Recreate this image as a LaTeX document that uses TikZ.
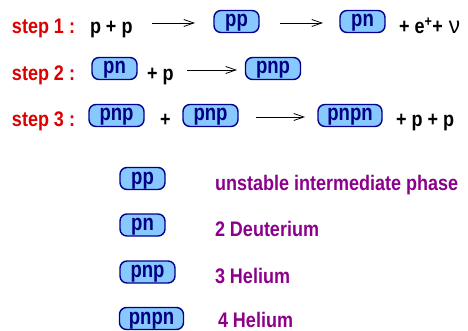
\documentclass[tikz,border=0pt]{standalone}
\usepackage{fontspec}
\setmainfont{Liberation Sans}
\usepackage{graphicx}
\usetikzlibrary{arrows.meta}
\definecolor{stepred}{RGB}{220,0,0}
\definecolor{legpurple}{RGB}{140,0,140}
\definecolor{boxfill}{RGB}{135,200,255}
\definecolor{boxdraw}{RGB}{0,0,140}
\definecolor{boxtext}{RGB}{0,0,130}
\newcommand{\T}[1]{\scalebox{1}[1.17]{#1}}
\newcommand{\B}[1]{\scalebox{1.03}[1.27]{#1}}
\begin{document}
\begin{tikzpicture}[x=1pt,y=-1pt,
  every node/.style={inner sep=0pt, outer sep=0pt, font=\fontsize{18}{21}\selectfont\bfseries},
  steplbl/.style={anchor=base west, text=stepred},
  eqtext/.style={anchor=base west, text=black},
  legtext/.style={anchor=base west, text=legpurple},
  nuc/.style={draw=boxdraw, fill=boxfill, text=boxtext, line width=1.4pt,
    rounded corners=7pt, minimum height=22pt, text height=16.5pt, text depth=5.5pt,
    minimum width=#1},
  nuc/.default=45pt,
  reac/.style={-{Straight Barb[length=10pt,width=7pt]}, line width=0.8pt}
]
\useasboundingbox (0,0) rectangle (468,331);
% row 1
\node[steplbl] (s1) at (12,34) {\T{step 1 :}};
\node[eqtext] (r1a) at (90,34) {\T{p + p}};
\node[nuc] (b11) at (236.5,21.5) {\B{pp}};
\node[nuc] (b12) at (362.5,21.5) {\B{pn}};
\node[eqtext] (r1b) at (399,34) {\T{+ e\textsuperscript{+}+}\hspace{6pt}\scalebox{1.25}[1.3]{\textmd{ν}}};
\coordinate (a1s) at (152,23); \coordinate (a1e) at (195,23);
\coordinate (a2s) at (280,23); \coordinate (a2e) at (323,23);
\draw[reac] (a1s) -- (a1e);
\draw[reac] (a2s) -- (a2e);
% row 2
\node[steplbl] (s2) at (12,80.5) {\T{step 2 :}};
\node[nuc] (b21) at (114.5,68.5) {\B{pn}};
\node[eqtext] (r2a) at (147,80.5) {\T{+ p}};
\node[nuc=55pt] (b22) at (273,68.5) {\B{pnp}};
\coordinate (a3s) at (187,70); \coordinate (a3e) at (237,70);
\draw[reac] (a3s) -- (a3e);
% row 3
\node[steplbl] (s3) at (12,127) {\T{step 3 :}};
\node[nuc=55pt] (b31) at (116.5,115.5) {\B{pnp}};
\node[eqtext] (r3a) at (160,127) {\T{+}};
\node[nuc=55pt] (b32) at (210.5,115.5) {\B{pnp}};
\node[nuc=64pt] (b33) at (350,115.5) {\B{pnpn}};
\node[eqtext] (r3b) at (396,127) {\T{+ p + p}};
\coordinate (a4s) at (256,117); \coordinate (a4e) at (305,117);
\draw[reac] (a4s) -- (a4e);
% legend
\node[nuc] (l1) at (142.5,178.5) {\B{pp}};
\node[nuc] (l2) at (142.5,225) {\B{pn}};
\node[nuc=55pt] (l3) at (147.5,272) {\B{pnp}};
\node[nuc=64pt] (l4) at (151.5,318.5) {\B{pnpn}};
\node[legtext] (t1) at (215,190) {\T{unstable intermediate phase}};
\node[legtext] (t2) at (215,236.5) {\T{2 Deuterium}};
\node[legtext] (t3) at (215,283) {\T{3 Helium}};
\node[legtext] (t4) at (218,327) {\T{4 Helium}};
\end{tikzpicture}
\end{document}
